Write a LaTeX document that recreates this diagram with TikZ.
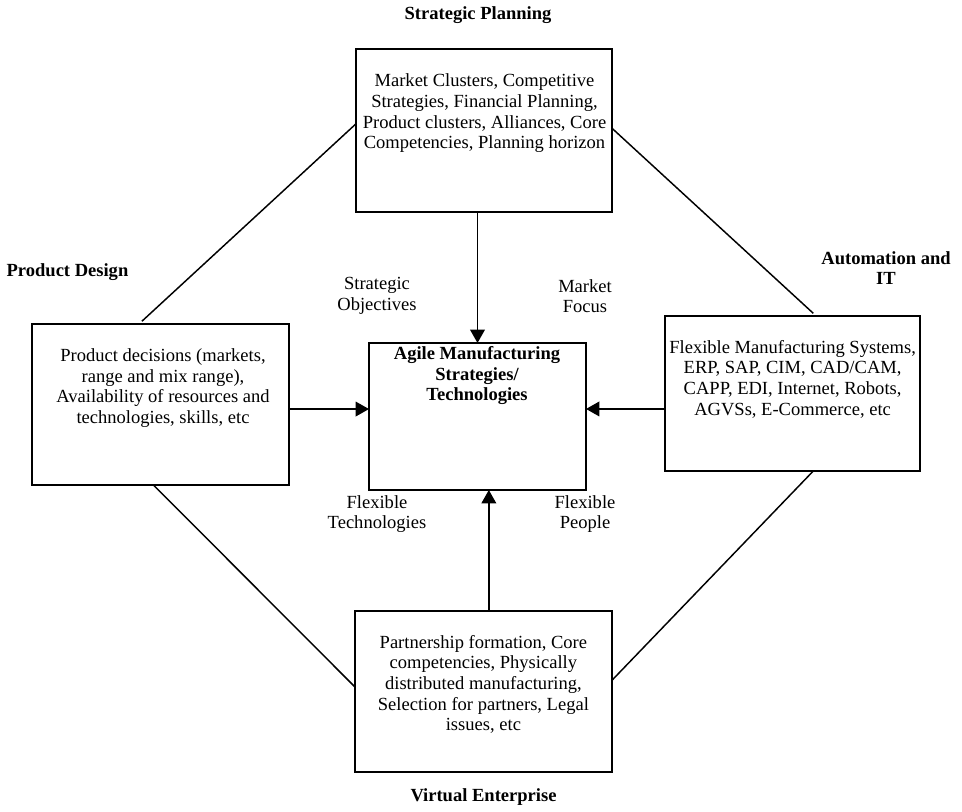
\documentclass[tikz,border=0pt]{standalone}
\usepackage{fontspec}
\setmainfont{Liberation Serif}
\usetikzlibrary{arrows.meta}
\begin{document}
\begin{tikzpicture}[x=0.75pt,y=-0.75pt,
  box/.style={draw, line width=1.4pt, rectangle, inner sep=0pt, outer sep=0pt},
  txt/.style={inner sep=0pt, align=center, font=\fontsize{13.9}{15.5}\selectfont},
  ttl/.style={inner sep=0pt, align=center, font=\fontsize{13.9}{15.5}\selectfont\bfseries},
  link/.style={line width=1.1pt},
  arr/.style={line width=1.1pt, -{Triangle[width=11pt,length=10pt]}}]
\useasboundingbox (0,0) rectangle (962,812);
% boxes
\node[box, minimum width=192pt, minimum height=122.25pt] (tb) at (484,130.5) {};
\node[box, minimum width=192.75pt, minimum height=120.75pt] (pd) at (160.5,404.5) {};
\node[box, minimum width=162.75pt, minimum height=110.25pt] (cb) at (477.5,416.5) {};
\node[box, minimum width=191.25pt, minimum height=116.25pt] (it) at (792.5,393.5) {};
\node[box, minimum width=192.75pt, minimum height=120.75pt] (vb) at (483.5,691.5) {};
% box texts
\node[txt] (tbt) at (484.5,113.3) {Market Clusters, Competitive\\Strategies, Financial Planning,\\Product clusters, Alliances, Core\\Competencies, Planning horizon};
\node[txt] (pdt) at (163,388.2) {Product decisions (markets,\\range and mix range),\\Availability of resources and\\technologies, skills, etc};
\node[ttl] (cbt) at (477,375.8) {Agile Manufacturing\\Strategies/\\Technologies};
\node[txt] (itt) at (792.6,379.2) {Flexible Manufacturing Systems,\\ERP, SAP, CIM, CAD/CAM,\\CAPP, EDI, Internet, Robots,\\AGVSs, E-Commerce, etc};
\node[txt] (vbt) at (483.4,684.5) {Partnership formation, Core\\competencies, Physically\\distributed manufacturing,\\Selection for partners, Legal\\issues, etc};
% titles
\node[ttl] (sp) at (478,15.5) {Strategic Planning};
\node[ttl] (pdl) at (67.5,271.7) {Product Design};
\node[ttl] (ait) at (886,268) {Automation and\\IT};
\node[ttl] (ve) at (483.5,797) {Virtual Enterprise};
% arrow labels
\node[txt] (so) at (377,296) {Strategic\\Objectives};
\node[txt] (mf) at (585,296) {Market\\Focus};
\node[txt] (ft) at (377,514) {Flexible\\Technologies};
\node[txt] (fp) at (585,514) {Flexible\\People};
% diagonal links
\draw[link, shorten <=3pt] (pd.105) -- (tb.177.5);
\draw[link, shorten >=3pt] (tb.1.6) -- (it.73.8);
\draw[link] (pd.-95.3) -- (vb.178.4);
\draw[link] (vb.5.1) -- (it.-75.2);
% arrows into centre
\draw[arr] (tb.south -| cb.north) -- (cb.north);
\draw[arr] ([xshift=4pt]vb.north) -- ([xshift=4pt]vb.north |- cb.south);
\draw[arr] ([yshift=-3.4pt]pd.east) -- ([yshift=-3.4pt]pd.east -| cb.west);
\draw[arr] ([yshift=-11.6pt]it.west) -- ([yshift=-11.6pt]it.west -| cb.east);
\end{tikzpicture}
\end{document}
